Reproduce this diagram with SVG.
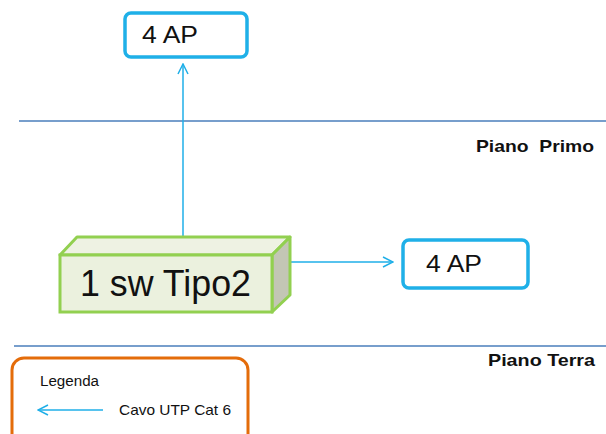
<svg xmlns="http://www.w3.org/2000/svg" width="606" height="434" viewBox="0 0 606 434">
<defs>
<marker id="ah" viewBox="0 0 12 12" refX="11" refY="6" markerWidth="12" markerHeight="12" markerUnits="userSpaceOnUse" orient="auto">
<path d="M1,1 L11,6 L1,11" fill="none" stroke="#1FAFE8" stroke-width="1.5"/>
</marker>
<style>
.ap{fill:#fff;stroke:#1FB0E8;stroke-width:3.5}
.t{font-family:"Liberation Sans","Open Sans",sans-serif;fill:#111}
.b{font-family:"Liberation Sans",sans-serif;font-weight:bold;font-size:17px;fill:#111}
.c{stroke:#1FAFE8;stroke-width:1.5;fill:none}
.fl{stroke:#4A7EBB;stroke-width:1.5}
</style>
</defs>
<rect width="606" height="434" fill="#fff"/>
<g id="floors">
<line class="fl" x1="19" y1="121" x2="606" y2="121"/>
<line class="fl" x1="14" y1="346" x2="606" y2="346"/>
<text class="b" x="476" y="152" textLength="118" lengthAdjust="spacingAndGlyphs" xml:space="preserve">Piano  Primo</text>
<text class="b" x="488" y="366" textLength="107" lengthAdjust="spacingAndGlyphs">Piano Terra</text>
</g>
<g id="connectors">
<line class="c" x1="183" y1="239" x2="183" y2="64" marker-end="url(#ah)"/>
<line class="c" x1="290" y1="262" x2="393" y2="262" marker-end="url(#ah)"/>
</g>
<g id="ap-top">
<rect class="ap" x="125" y="13" width="122" height="44" rx="6"/>
<text class="t" x="142" y="43" font-size="23" textLength="56" lengthAdjust="spacingAndGlyphs">4 AP</text>
</g>
<g id="switch">
<polygon points="60,255 77,237 290,237 272,255" fill="#EEF2E3" stroke="#92D050" stroke-width="3" stroke-linejoin="round"/>
<polygon points="272,255 290,237 290,295 272,312" fill="#C3C6B5" stroke="#92D050" stroke-width="3" stroke-linejoin="round"/>
<rect x="60" y="255" width="212" height="57" fill="#EBF1DE" stroke="#92D050" stroke-width="3"/>
<text class="t" x="80" y="296" font-size="37" textLength="171" lengthAdjust="spacingAndGlyphs">1 sw Tipo2</text>
</g>
<g id="ap-right">
<rect class="ap" x="403" y="240" width="125" height="48" rx="6"/>
<text class="t" x="426" y="272" font-size="23" textLength="56" lengthAdjust="spacingAndGlyphs">4 AP</text>
</g>
<g id="legend">
<rect x="12" y="358" width="236" height="90" rx="12" fill="#fff" stroke="#E46C0A" stroke-width="3"/>
<text class="t" x="40" y="386" font-size="14" textLength="59" lengthAdjust="spacingAndGlyphs">Legenda</text>
<line class="c" x1="103" y1="410" x2="38" y2="410" marker-end="url(#ah)"/>
<text class="t" x="119" y="415" font-size="15" textLength="112" lengthAdjust="spacingAndGlyphs">Cavo UTP Cat 6</text>
</g>
</svg>
